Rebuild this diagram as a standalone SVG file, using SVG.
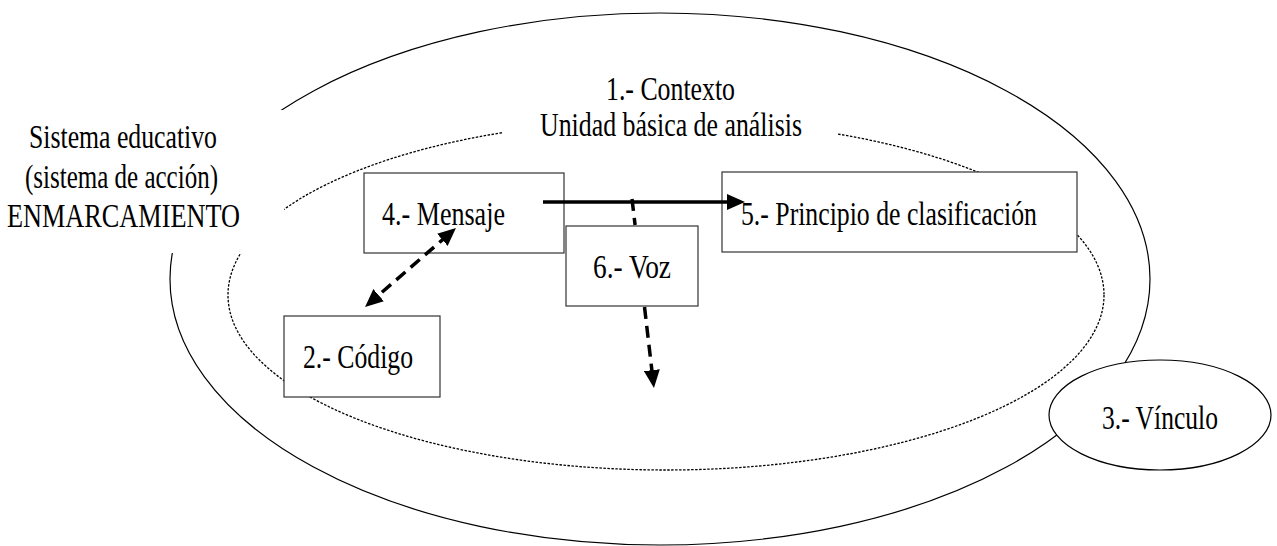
<svg xmlns="http://www.w3.org/2000/svg" width="1277" height="546" viewBox="0 0 1277 546">
<style>
text{font-family:"Liberation Serif","Times New Roman",serif;font-size:33px;fill:#000}
.solid{fill:none;stroke:#000;stroke-width:1.2}
.dotted{fill:none;stroke:#000;stroke-width:1.3;stroke-dasharray:2.5 1.5}
.mask{fill:#fff;stroke:none}
.box{fill:#fff;stroke:#333;stroke-width:1.2}
.conn{fill:none;stroke:#000;stroke-width:3.5}
.dash{stroke-dasharray:12 7}
</style>
<defs>
<marker id="ah" markerUnits="userSpaceOnUse" markerWidth="18" markerHeight="16" refX="8" refY="8" orient="auto-start-reverse">
<path d="M0,0 L18,8 L0,16 z" fill="#000"/>
</marker>
</defs>
<rect width="1277" height="546" fill="#fff"/>
<g id="sistema">
<ellipse class="solid" cx="660" cy="279" rx="490" ry="266"/>
</g>
<g id="contexto">
<ellipse class="dotted" cx="666" cy="295" rx="438" ry="175"/>
</g>
<g id="sistema-label">
<rect class="mask" x="0" y="110" width="284" height="143"/>
<text x="29" y="148" textLength="188" lengthAdjust="spacingAndGlyphs">Sistema educativo</text>
<text x="25" y="188" textLength="193" lengthAdjust="spacingAndGlyphs">(sistema de acción)</text>
<text x="7" y="227" textLength="233" lengthAdjust="spacingAndGlyphs">ENMARCAMIENTO</text>
</g>
<g id="contexto-label">
<rect class="mask" x="503" y="70" width="335" height="80"/>
<text x="606" y="100" textLength="129" lengthAdjust="spacingAndGlyphs">1.- Contexto</text>
<text x="540" y="136" textLength="262" lengthAdjust="spacingAndGlyphs">Unidad básica de análisis</text>
</g>
<g id="mensaje">
<rect class="box" x="364" y="173" width="200" height="80"/>
<text x="382" y="225" textLength="123" lengthAdjust="spacingAndGlyphs">4.- Mensaje</text>
</g>
<g id="principio">
<rect class="box" x="722" y="172" width="355" height="80"/>
<text x="741" y="225" textLength="296" lengthAdjust="spacingAndGlyphs">5.- Principio de clasificación</text>
</g>
<g id="voz">
<rect class="box" x="566" y="226" width="132" height="80"/>
<text x="593" y="278" textLength="78" lengthAdjust="spacingAndGlyphs">6.- Voz</text>
</g>
<g id="codigo">
<rect class="box" x="284" y="316" width="156" height="81"/>
<text x="303" y="368" textLength="110" lengthAdjust="spacingAndGlyphs">2.- Código</text>
</g>
<g id="vinculo">
<ellipse class="solid" cx="1160" cy="415" rx="111" ry="55" style="fill:#fff"/>
<text x="1102" y="429" textLength="116" lengthAdjust="spacingAndGlyphs">3.- Vínculo</text>
</g>
<g id="connectors">
<path class="conn" d="M543,202 L735,202" marker-end="url(#ah)"/>
<path class="conn dash" d="M448.4,234.6 L372.6,300.4" marker-start="url(#ah)" marker-end="url(#ah)"/>
<path class="conn dash" d="M632,199 L635.1,225 M644.5,307 L652.8,378.1" marker-end="url(#ah)"/>
</g>
</svg>
